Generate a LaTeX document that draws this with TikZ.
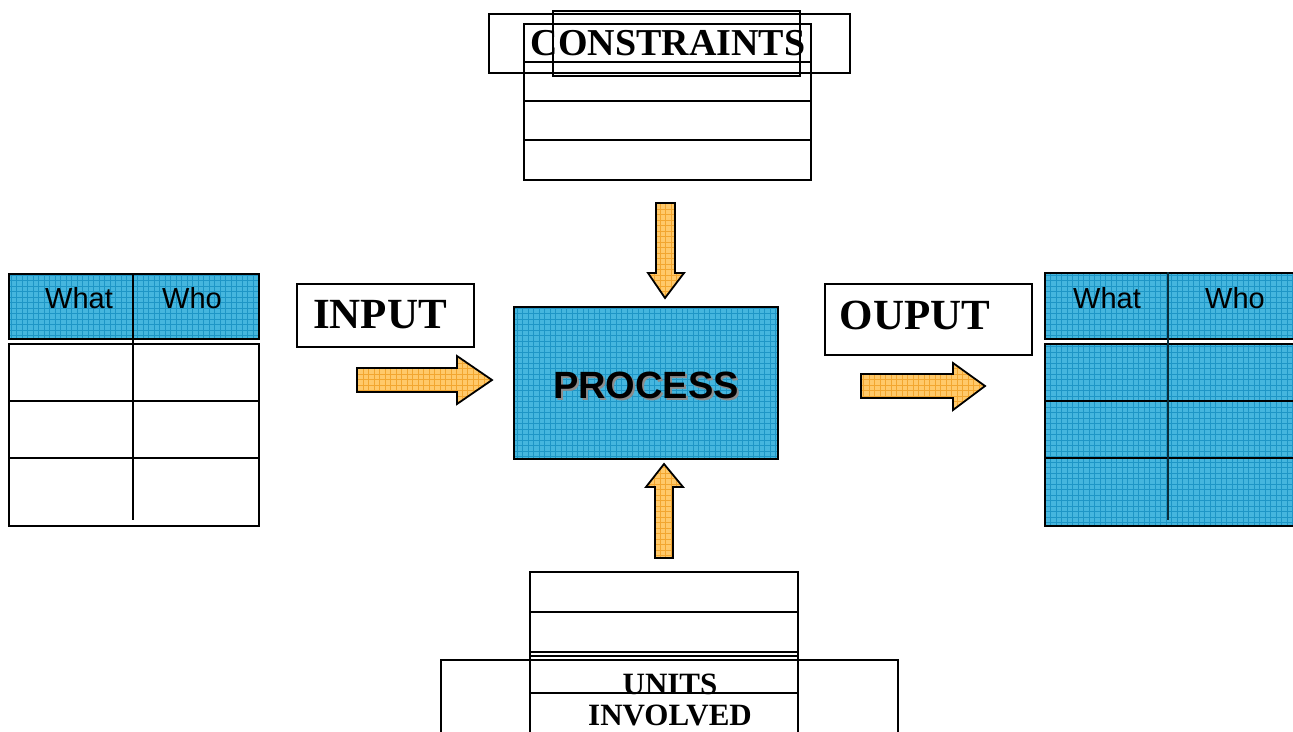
\documentclass[tikz,border=0pt]{standalone}
\usepackage{fontspec}
\setmainfont{Liberation Serif}
\setsansfont{Liberation Sans}
\definecolor{pblue}{HTML}{45B6DE}
\definecolor{pbluel}{HTML}{1E96C6}
\definecolor{porange}{HTML}{FFC96A}
\definecolor{porangel}{HTML}{F2A630}
\newcommand\patpath[3]{% path, fill, line colour
  \fill[#2] #1;
  \begin{scope}\clip #1;
    \draw[#3, line width=0.6pt, step=5.5pt] (0,0) grid (1300,740);
  \end{scope}}
\tikzset{
  rect/.style={draw, line width=1.8pt, inner sep=0pt, anchor=north west},
  tline/.style={line width=2.2pt},
  arrowline/.style={draw, line width=1.8pt, line join=miter},
  serlab/.style={font=\bfseries\fontsize{#1}{#1}\selectfont, inner sep=0pt},
  sanlab/.style={font=\sffamily\fontsize{29}{29}\selectfont, inner sep=0pt},
}
\begin{document}
\begin{tikzpicture}[x=1pt,y=-1pt]
\useasboundingbox (0,0) rectangle (1293,731);

% ---------- CONSTRAINTS ----------
\node[rect, minimum width=287, minimum height=156] (ctab) at (523,23) {};
\draw[tline] (523,62) -- (810,62);
\draw[tline] (523,101) -- (810,101);
\draw[tline] (523,140) -- (810,140);
\node[rect, minimum width=361, minimum height=59] (cbox) at (488,13) {};
\node[rect, minimum width=247, minimum height=65] (cbox2) at (552,10) {};
\node[serlab=38] (ctext) at (668,43) {CONSTRAINTS};

% ---------- UNITS INVOLVED ----------
\node[rect, minimum width=268, minimum height=170] (utab) at (529,571) {};
\draw[tline] (529,612) -- (797,612);
\draw[tline] (529,652) -- (797,652);
\draw[line width=1.4pt] (529,656) -- (797,656);
\draw[line width=1.4pt] (529,693) -- (797,693);
\node[rect, minimum width=457, minimum height=90] (ubox) at (440,659) {};
\node[serlab=31] (utext1) at (670,684) {UNITS};
\node[serlab=31] (utext2) at (670,715) {INVOLVED};

% ---------- left table ----------
\patpath{(8,273) rectangle (258,338)}{pblue}{pbluel}
\node[rect, minimum width=250, minimum height=65] (lhead) at (8,273) {};
\node[rect, fill=white, minimum width=250, minimum height=182] (lbody) at (8,343) {};
\draw[tline] (8,401) -- (258,401);
\draw[tline] (8,458) -- (258,458);
\draw[line width=1.4pt] (133,273) -- (133,520);
\node[sanlab] (lwhat) at (79,298) {What};
\node[sanlab] (lwho) at (192,298) {Who};

% ---------- right table ----------
\patpath{(1044,272) rectangle (1300,338)}{pblue}{pbluel}
\patpath{(1044,343) rectangle (1300,525)}{pblue}{pbluel}
\node[rect, minimum width=256, minimum height=66] (rhead) at (1044,272) {};
\node[rect, minimum width=256, minimum height=182] (rbody) at (1044,343) {};
\draw[tline] (1044,401) -- (1300,401);
\draw[tline] (1044,458) -- (1300,458);
\draw[line width=1.4pt, black!70!pbluel] (1168,272) -- (1168,520);
\node[sanlab] (rwhat) at (1107,298) {What};
\node[sanlab] (rwho) at (1235,298) {Who};

% ---------- INPUT / OUPUT labels ----------
\node[rect, minimum width=177, minimum height=63] (inbox) at (296,283) {};
\node[serlab=43] (intext) at (380,315) {INPUT};
\node[rect, minimum width=207, minimum height=71] (outbox) at (824,283) {};
\node[serlab=43] (outtext) at (915,315) {OUPUT};

% ---------- PROCESS ----------
\patpath{(513,306) rectangle (777,458)}{pblue}{pbluel}
\node[rect, minimum width=264, minimum height=152] (proc) at (513,306) {};
\node[font=\sffamily\bfseries\fontsize{38}{38}\selectfont, inner sep=0pt, text=black!45] (pshadow) at (648,387) {PROCESS};
\node[font=\sffamily\bfseries\fontsize{38}{38}\selectfont, inner sep=0pt] (ptext) at (646,385) {PROCESS};

% ---------- block arrows ----------
% input arrow
\coordinate (ia) at (492,380);
\patpath{(357,368) -- (457,368) -- (457,356) -- (ia) -- (457,404) -- (457,392) -- (357,392) -- cycle}{porange}{porangel}
\draw[arrowline] (357,368) -- (457,368) -- (457,356) -- (ia) -- (457,404) -- (457,392) -- (357,392) -- cycle;
% output arrow
\coordinate (oa) at (985,386);
\patpath{(861,374) -- (953,374) -- (953,363) -- (oa) -- (953,410) -- (953,398) -- (861,398) -- cycle}{porange}{porangel}
\draw[arrowline] (861,374) -- (953,374) -- (953,363) -- (oa) -- (953,410) -- (953,398) -- (861,398) -- cycle;
% down arrow
\coordinate (da) at (665,298);
\patpath{(656,203) -- (675,203) -- (675,273) -- (684,273) -- (da) -- (648,273) -- (656,273) -- cycle}{porange}{porangel}
\draw[arrowline] (656,203) -- (675,203) -- (675,273) -- (684,273) -- (da) -- (648,273) -- (656,273) -- cycle;
% up arrow
\coordinate (ua) at (664,464);
\patpath{(655,558) -- (673,558) -- (673,487) -- (683,487) -- (ua) -- (646,487) -- (655,487) -- cycle}{porange}{porangel}
\draw[arrowline] (655,558) -- (673,558) -- (673,487) -- (683,487) -- (ua) -- (646,487) -- (655,487) -- cycle;
\end{tikzpicture}
\end{document}
